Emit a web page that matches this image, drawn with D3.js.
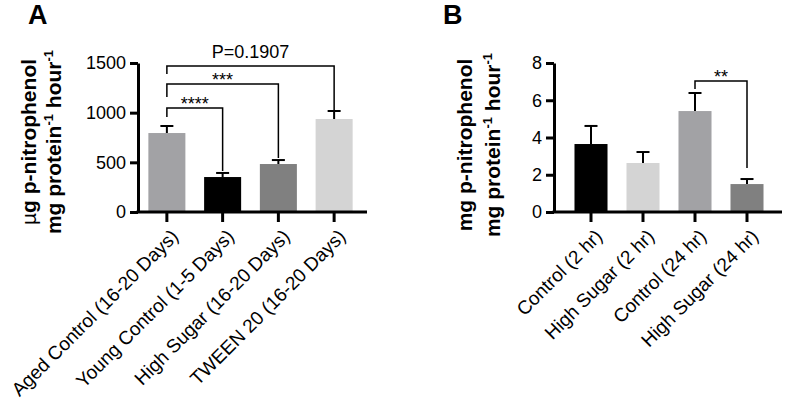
<!DOCTYPE html>
<html>
<head>
<meta charset="utf-8">
<script src="https://cdn.jsdelivr.net/npm/d3@7"></script>
<style>
  body { margin: 0; background: #fff; }
  svg { font-family: "Liberation Sans", Arial, sans-serif; }
</style>
</head>
<body>
<svg id="chart" width="787" height="408"></svg>
<script>
// Panel A data
const catsA = ["Aged Control (16-20 Days)", "Young Control (1-5 Days)", "High Sugar (16-20 Days)", "TWEEN 20 (16-20 Days)"];
const meansA = [795, 352, 483, 936];
const errA = [866, 393, 523, 1017];
const colorsA = ["#a2a2a5", "#000000", "#808080", "#d4d4d4"];
const ticksA = [0, 500, 1000, 1500];
// brackets: [from, to, label, bar y, left leg bottom, right leg bottom]
const bracketsA = [
  [0, 1, "****", 1047, 956, 413],
  [0, 2, "***", 1289, 1158, 544],
  [0, 3, "P=0.1907", 1470, 1389, 1027]
];

// Panel B data
const catsB = ["Control (2 hr)", "High Sugar (2 hr)", "Control (24 hr)", "High Sugar (24 hr)"];
const meansB = [3.65, 2.63, 5.42, 1.50];
const errB = [4.62, 3.22, 6.39, 1.77];
const colorsB = ["#000000", "#d4d4d4", "#a2a2a5", "#808080"];
const ticksB = [0, 2, 4, 6, 8];
const bracketsB = [
  [2, 3, "**", 7.03, 6.6, 2.36]
];

const svg = d3.select("#chart");

function drawPanel(o) {
  const g = svg.append("g");
  const y = d3.scaleLinear().domain(o.domain).range([212, 63]);
  const x = d3.scaleBand().domain(o.cats).range(o.band)
    .paddingInner(o.pad).paddingOuter(o.pad / 2);
  const cx = d => x(d) + x.bandwidth() / 2;

  // panel letter
  g.append("text").attr("x", o.letterX).attr("y", 24)
    .attr("font-size", 27).attr("font-weight", "bold").text(o.letter);

  // y axis title (two lines)
  const yt = g.append("text")
    .attr("transform", `translate(${o.titleX[0]},${o.titleY}) rotate(-90)`)
    .attr("text-anchor", "middle").attr("font-size", 21).attr("font-weight", "bold");
  if (o.micro) {
    yt.append("tspan").text("\u00B5").attr("font-weight", "normal");
    yt.append("tspan").text("g p-nitrophenol");
  } else {
    yt.text("mg p-nitrophenol");
  }
  const yt2 = g.append("text")
    .attr("transform", `translate(${o.titleX[1]},${o.titleY}) rotate(-90)`)
    .attr("text-anchor", "middle").attr("font-size", 21).attr("font-weight", "bold");
  yt2.append("tspan").text("mg protein");
  yt2.append("tspan").text("-1").attr("font-size", 13).attr("dy", -8);
  yt2.append("tspan").text(" hour").attr("dy", 8);
  yt2.append("tspan").text("-1").attr("font-size", 13).attr("dy", -8);

  // bars
  g.selectAll(".bar").data(o.cats).enter().append("rect")
    .attr("x", d => x(d)).attr("width", x.bandwidth())
    .attr("y", (d, i) => y(o.means[i]))
    .attr("height", (d, i) => y(0) - y(o.means[i]))
    .attr("fill", (d, i) => o.colors[i]);

  // error bars (upper only)
  o.cats.forEach((c, i) => {
    g.append("line").attr("x1", cx(c)).attr("x2", cx(c))
      .attr("y1", y(o.means[i])).attr("y2", y(o.err[i]))
      .attr("stroke", "#000").attr("stroke-width", 2);
    g.append("line").attr("x1", cx(c) - 6.5).attr("x2", cx(c) + 6.5)
      .attr("y1", y(o.err[i])).attr("y2", y(o.err[i]))
      .attr("stroke", "#000").attr("stroke-width", 2);
  });

  // y axis
  const ya = g.append("g").attr("transform", `translate(${o.axisX},0)`)
    .call(d3.axisLeft(y).tickValues(o.ticks).tickFormat(d3.format("d"))
      .tickSize(8).tickSizeOuter(0).tickPadding(4));
  ya.select(".domain").attr("stroke-width", 3);
  ya.selectAll(".tick line").attr("stroke-width", 3);
  ya.selectAll(".tick text").attr("font-size", 18).attr("fill", "#000").attr("font-family", null);

  // x axis
  g.append("line").attr("x1", o.axisX - 1.5).attr("x2", o.axisEnd)
    .attr("y1", y(0)).attr("y2", y(0)).attr("stroke", "#000").attr("stroke-width", 3);
  const xa = g.append("g").attr("transform", `translate(0,${y(0)})`)
    .call(d3.axisBottom(x).tickSize(10).tickSizeOuter(0));
  xa.select(".domain").remove();
  xa.selectAll(".tick line").attr("stroke-width", 3);
  xa.selectAll(".tick text")
    .attr("font-size", o.labelSize).attr("fill", "#000").attr("font-family", null)
    .attr("text-anchor", "end")
    .attr("transform", "translate(3,16) rotate(-45)")
    .attr("x", 0).attr("y", 0).attr("dy", "0.71em");

  // significance brackets
  o.brackets.forEach(b => {
    const x1 = cx(o.cats[b[0]]), x2 = cx(o.cats[b[1]]);
    g.append("path")
      .attr("d", `M${x1},${y(b[4])}V${y(b[3])}H${x2}V${y(b[5])}`)
      .attr("fill", "none").attr("stroke", "#000").attr("stroke-width", 1.5);
    const isP = b[2].startsWith("P");
    g.append("text").attr("x", (x1 + x2) / 2).attr("y", isP ? y(b[3]) - 8 : y(b[3]) + 2)
      .attr("text-anchor", "middle").attr("font-size", 18).text(b[2]);
  });
}

drawPanel({
  letter: "A", letterX: 28, micro: true,
  titleX: [36, 61], titleY: 142,
  domain: [0, 1500], ticks: ticksA,
  cats: catsA, means: meansA, err: errA, colors: colorsA, brackets: bracketsA,
  band: [139, 362], pad: 0.336, axisX: 138, axisEnd: 367, labelSize: 19
});

drawPanel({
  letter: "B", letterX: 443, micro: false,
  titleX: [472, 500], titleY: 145,
  domain: [0, 8], ticks: ticksB,
  cats: catsB, means: meansB, err: errB, colors: colorsB, brackets: bracketsB,
  band: [565, 773], pad: 0.365, axisX: 554, axisEnd: 782, labelSize: 19
});
</script>
</body>
</html>
